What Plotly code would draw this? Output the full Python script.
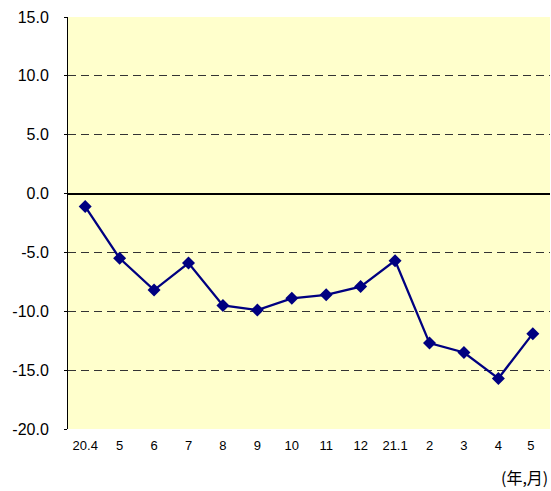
import plotly.graph_objects as go

months = ["20.4", "5", "6", "7", "8", "9", "10", "11", "12", "21.1", "2", "3", "4", "5 "]
values = [-1.1, -5.5, -8.2, -5.9, -9.5, -9.9, -8.9, -8.6, -7.9, -5.7, -12.7, -13.5, -15.7, -11.9]
y_ticks = [15, 10, 5, 0, -5, -10, -15, -20]

fig = go.Figure()
fig.add_trace(go.Scatter(
    x=months, y=values, mode="lines+markers",
    line=dict(color="#000080", width=2.3),
    marker=dict(symbol="diamond", size=10, color="#000080"),
    showlegend=False,
))

fig.update_layout(
    width=551, height=491,
    margin=dict(l=68, r=1, t=17, b=62, autoexpand=False),
    paper_bgcolor="white",
    plot_bgcolor="#FFFFCC",
    font=dict(family="Liberation Sans, Arial, sans-serif", color="black"),
    xaxis=dict(
        type="category",
        automargin=False,
        showgrid=False,
        showline=False,
        ticks="",
        tickfont=dict(size=13),
        ticklabelstandoff=7,
        range=[-0.5, 13.5],
        fixedrange=True,
    ),
    yaxis=dict(
        automargin=False,
        range=[-20, 15],
        tickvals=y_ticks,
        ticktext=[f"{v:.1f}" for v in y_ticks],
        tickfont=dict(size=16),
        showgrid=True,
        gridcolor="#333333",
        griddash="8px,5px",
        gridwidth=1,
        zeroline=True,
        zerolinecolor="black",
        zerolinewidth=2,
        showline=True,
        linecolor="black",
        linewidth=1,
        ticks="outside",
        ticklen=3,
        tickcolor="black",
        ticklabelstandoff=12,
        fixedrange=True,
    ),
    annotations=[dict(
        text="(年,月)", x=1, y=0, xref="paper", yref="paper",
        xanchor="right", yanchor="top", yshift=-34, xshift=0,
        showarrow=False, font=dict(size=16, family="Noto Sans CJK JP, Liberation Sans, sans-serif"),
    )],
)

fig.write_html("out.html", config={"displayModeBar": False},
               post_script="document.body.style.margin='0';document.body.style.overflow='hidden';")
